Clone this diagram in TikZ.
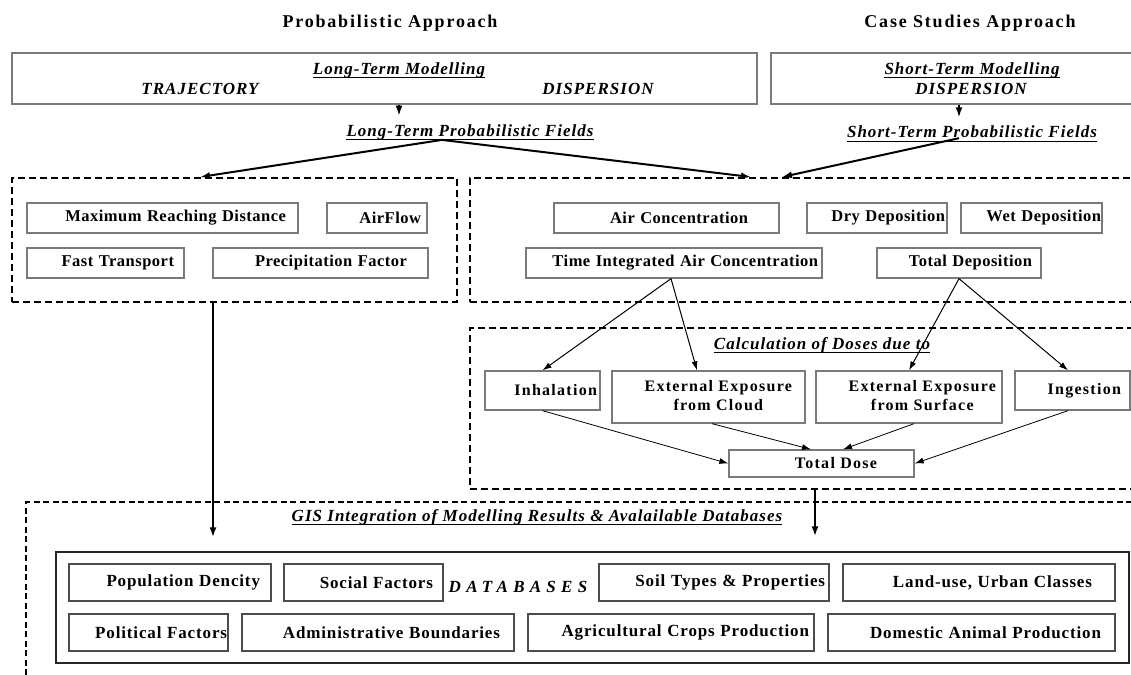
\documentclass[tikz,border=0pt]{standalone}
\usepackage{fontspec}
\setmainfont{Liberation Serif}
\newfontfamily\fTitle[LetterSpace=10]{Liberation Serif}
\newfontfamily\fCell[LetterSpace=3]{Liberation Serif}
\newfontfamily\fDose[LetterSpace=8]{Liberation Serif}
\newfontfamily\fBase[LetterSpace=5]{Liberation Serif}
\newfontfamily\fItal[LetterSpace=6]{Liberation Serif}
\newfontfamily\fWide[LetterSpace=31]{Liberation Serif}
\usetikzlibrary{arrows.meta}
\definecolor{BoxGray}{HTML}{7A7A7A}

\tikzset{
  cell/.style={draw=BoxGray, line width=1.3pt, align=right, inner ysep=0pt, minimum height=30pt,
    font=\fontsize{16.5}{19}\fCell\bfseries},
  cw/.style 2 args={text width=#1, inner xsep=#2},
  dosecell/.style={cell, font=\fontsize{16}{19}\fDose\bfseries},
  dbcell/.style={cell, draw=black!70, minimum height=37pt, font=\fontsize{17}{19}\fBase\bfseries},
  outerbox/.style={draw=BoxGray, line width=1.3pt, inner sep=0pt},
  dashbox/.style={draw, line width=2pt, dash pattern=on 7pt off 4pt, inner sep=0pt},
  heading/.style={inner sep=0pt, font=\fontsize{18}{20}\fTitle\bfseries},
  ital/.style={inner sep=0pt, font=\fontsize{17}{19}\fItal\bfseries\itshape},
  uline/.style={append after command={([yshift=-3.5pt]\tikzlastnode.base west)
      edge[line width=1.5pt] ([yshift=-3.5pt]\tikzlastnode.base east)}},
  feed/.style={line width=2pt, -{Latex[length=10pt,width=7pt]}},
  dose/.style={line width=1pt, -{Latex[length=9pt,width=6pt]}},
  tosum/.style={line width=0.8pt, -{Latex[length=9pt,width=6pt]}},
}

\begin{document}
\begin{tikzpicture}[x=1pt, y=-1pt]
  \path[use as bounding box] (0,0) rectangle (1131,674);
  \clip (0,0) rectangle (1131,674);
  % Headings
  \node[heading] (probhead) at (390,23) {Probabilistic Approach};
  \node[heading] (casehead) at (970,23) {Case Studies Approach};
  % Modelling boxes
  \node[outerbox, minimum width=745pt, minimum height=51pt] (ltbox) at (384.5,78.5) {};
  \node[outerbox, minimum width=374pt, minimum height=51pt] (stbox) at (958,78.5) {};
  \node[ital, uline] (ltmod) at (399,70) {Long-Term Modelling};
  \node[ital] (traj) at (200,89) {TRAJECTORY};
  \node[ital] (ltdisp) at (598,89) {DISPERSION};
  \node[ital, uline] (stmod) at (972,70) {Short-Term Modelling};
  \node[ital] (stdisp) at (971,89) {DISPERSION};
  \node[ital, uline] (ltfields) at (470,132) {Long-Term Probabilistic Fields};
  \node[ital, uline] (stfields) at (972,132) {Short-Term Probabilistic Fields};
  % Probabilistic results
  \node[dashbox, minimum width=445pt, minimum height=124pt] (probbox) at (234.5,240) {};
  \node[cell, cw={247pt}{12pt}] (maxdist) at (162.5,218) {Maximum Reaching Distance};
  \node[cell, cw={88pt}{6pt}] (airflow) at (377,218) {AirFlow};
  \node[cell, cw={137pt}{10pt}] (fast) at (105.5,263) {Fast Transport};
  \node[cell, cw={173pt}{21pt}] (precip) at (320.5,263) {Precipitation Factor};
  % Concentration and deposition results
  \node[dashbox, minimum width=675pt, minimum height=124pt] (concbox) at (807.5,240) {};
  \node[cell, cw={163pt}{31pt}] (airconc) at (666.5,218) {Air Concentration};
  \node[cell, cw={136pt}{2pt}] (drydep) at (877,218) {Dry Deposition};
  \node[cell, cw={139pt}{1pt}] (wetdep) at (1031.5,218) {Wet Deposition};
  \node[cell, cw={288pt}{4pt}] (timeint) at (674,263) {Time Integrated Air Concentration};
  \node[cell, cw={146pt}{9pt}] (totdep) at (959,263) {Total Deposition};
  % Doses
  \node[dashbox, line width=1.6pt, minimum width=675pt, minimum height=161pt] (dosebox) at (807.5,408.5) {};
  \node[ital, uline] (calc) at (822,345) {Calculation of Doses due to};
  \node[dosecell, minimum height=39pt, cw={109pt}{3pt}] (inhal) at (542.5,390.5) {Inhalation};
  \node[dosecell, minimum height=52pt, cw={167pt}{13pt}] (extcloud) at (708.5,397)
    {\begin{tabular}{@{}c@{}}External Exposure\\from Cloud\end{tabular}};
  \node[dosecell, minimum height=52pt, cw={174pt}{6pt}] (extsurf) at (909,397)
    {\begin{tabular}{@{}c@{}}External Exposure\\from Surface\end{tabular}};
  \node[dosecell, minimum height=39pt, cw={97pt}{9pt}] (ingest) at (1072.5,390.5) {Ingestion};
  \node[dosecell, minimum height=27pt, cw={111pt}{37pt}] (totdose) at (821.5,463.5) {Total Dose};
  % GIS integration
  \node[dashbox, line width=1.3pt, dash pattern=on 6pt off 3.5pt, minimum width=1119pt, minimum height=198pt] (gisbox) at (585.5,601) {};
  \node[ital, uline] (gis) at (537,517) {GIS Integration of Modelling Results \& Avalailable Databases};
  \node[outerbox, draw=black!85, minimum width=1073pt, minimum height=111pt] (dbbox) at (592.5,607.5) {};
  \node[inner sep=0pt, font=\fontsize{17}{19}\fWide\bfseries\itshape] (dbs) at (518,587) {DATABASES};
  \node[dbcell, cw={180pt}{11pt}] (pop) at (170,582.5) {Population Dencity};
  \node[dbcell, cw={139pt}{10pt}] (social) at (363.5,582.5) {Social Factors};
  \node[dbcell, cw={222pt}{4pt}] (soil) at (714,582.5) {Soil Types \& Properties};
  \node[dbcell, cw={226pt}{23pt}] (landuse) at (979,582.5) {Land-use, Urban Classes};
  \node[dbcell, cw={157pt}{1pt}] (political) at (148.5,632.5) {Political Factors};
  \node[dbcell, cw={244pt}{14pt}] (admin) at (378,632.5) {Administrative Boundaries};
  \node[dbcell, cw={276pt}{5pt}] (agri) at (671,632.5) {Agricultural Crops Production};
  \node[dbcell, cw={259pt}{14pt}] (animal) at (971.5,632.5) {Domestic Animal Production};
  % Arrows from modelling to fields
  \draw[feed, line width=1.6pt, shorten >=8.5pt] (ltmod |- ltbox.south) -- (ltmod |- ltfields.north);
  \draw[feed, line width=1.6pt, shorten >=8.5pt] ([xshift=1pt]stbox.south) -- ([xshift=1pt]stbox.south |- stfields.north);
  % Arrows from fields to results
  \draw[feed] ([xshift=-28pt]ltfields.south) -- ([xshift=-34.5pt]probbox.north);
  \draw[feed] ([xshift=-28pt]ltfields.south) -- ([xshift=-56.5pt]concbox.north);
  \draw[feed] ([xshift=-13pt]stfields.south) -- ([xshift=-25.5pt]concbox.north);
  % Arrows to dose pathways
  \draw[dose] ([xshift=-3pt]timeint.south) -- (inhal.north);
  \draw[dose] ([xshift=-3pt]timeint.south) -- ([xshift=-11.5pt]extcloud.north);
  \draw[dose] (totdep.south) -- (extsurf.north);
  \draw[dose] (totdep.south) -- ([xshift=-4.5pt]ingest.north);
  % Arrows to total dose
  \draw[tosum] (inhal.south) -- (totdose.west);
  \draw[tosum] ([xshift=3.5pt]extcloud.south) -- ([xshift=-10.5pt]totdose.north);
  \draw[tosum] ([xshift=5pt]extsurf.south) -- ([xshift=21.5pt]totdose.north);
  \draw[tosum] ([xshift=-4.5pt]ingest.south) -- (totdose.east);
  % Arrows into GIS databases
  \draw[feed, shorten >=14pt] ([xshift=-21.5pt]probbox.south) -- ([xshift=-21.5pt]probbox.south |- dbbox.north);
  \draw[feed, shorten >=15pt] ([xshift=7.5pt]dosebox.south) -- ([xshift=7.5pt]dosebox.south |- dbbox.north);
\end{tikzpicture}
\end{document}
